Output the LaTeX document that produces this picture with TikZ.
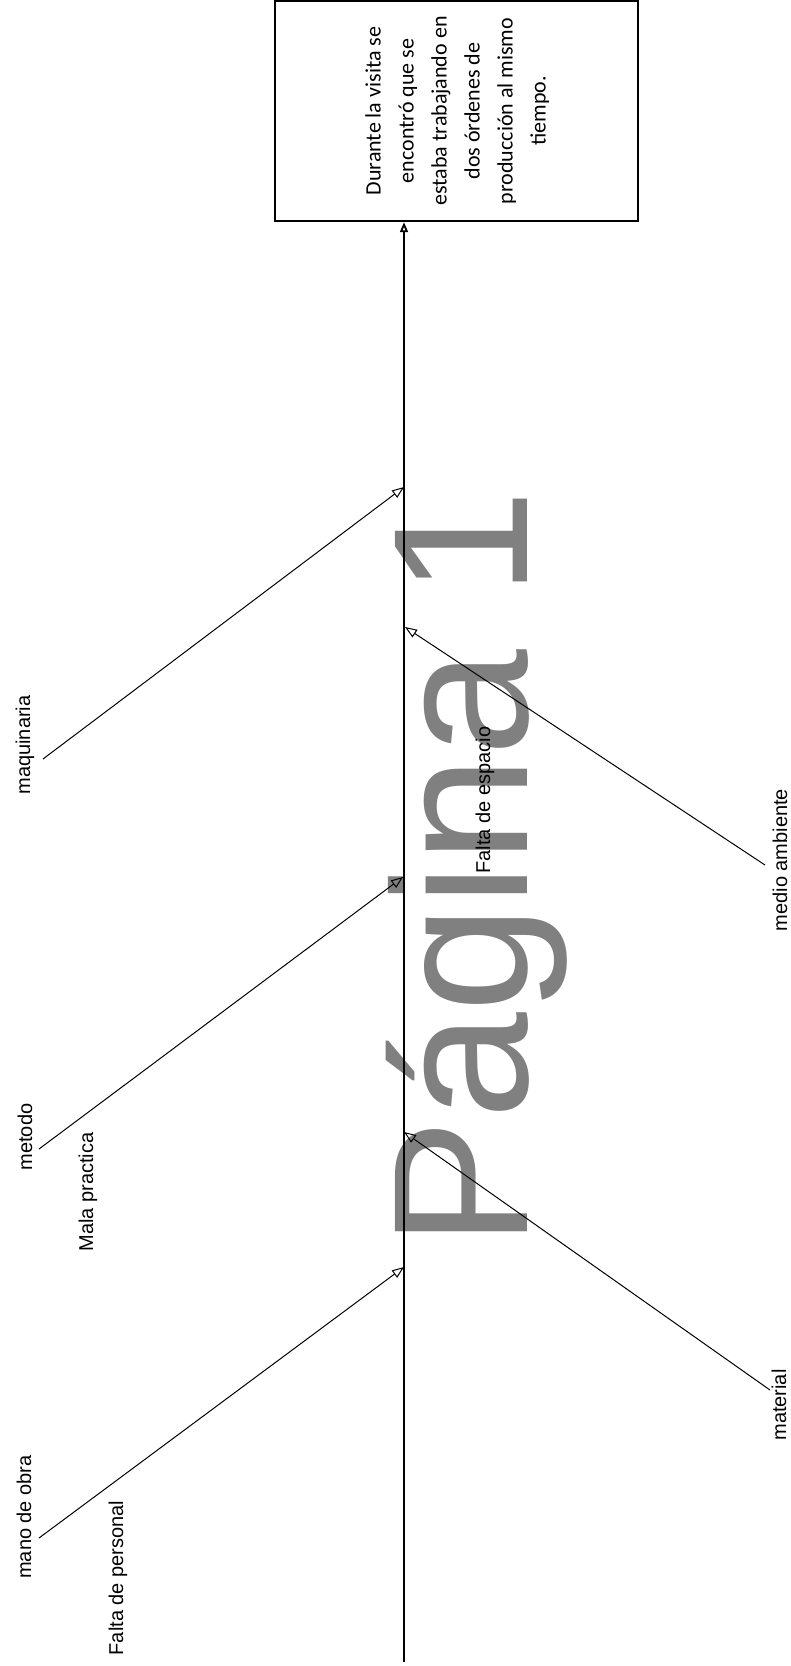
\documentclass[tikz,border=0pt]{standalone}
\usepackage{fontspec}
\setmainfont{Liberation Sans}
\newfontfamily\boxfont{Carlito}
\usetikzlibrary{arrows.meta}
\begin{document}
\begin{tikzpicture}[x=0.5pt,y=-0.5pt,
  lbl/.style={rotate=90, inner sep=0pt, font=\fontsize{10}{12}\selectfont},
  bone/.style={line width=0.5pt, -{Triangle[open,length=6pt,width=4.5pt]}},
  spineline/.style={line width=0.9pt, -{Triangle[open,length=5pt,width=4pt]}},
  effect/.style={draw, line width=1.2pt, minimum width=181.5pt, minimum height=110pt, inner sep=0pt},
  watermark/.style={rotate=90, anchor=base west, inner sep=0pt, text=black!50, font=\fontsize{96}{96}\selectfont}]
\useasboundingbox (0,0) rectangle (791,1666);
% watermark
\node[watermark] (wm) at (527,1248) {Página 1};
% effect box
\node[effect] (box) at (456.5,111) {\rotatebox{90}{\boxfont\fontsize{11}{16.5}\selectfont
  \begin{tabular}{@{}c@{}}Durante la visita se\\ encontró que se\\ estaba trabajando en\\ dos órdenes de\\ producción al mismo\\ tiempo.\end{tabular}}};
% spine
\coordinate (tail) at (404,1662);
\draw[spineline] (tail) -- (tail |- box.south);
% joints on spine
\coordinate (jmaq) at (404,487);
\coordinate (jmed) at (405,627);
\coordinate (jmet) at (403,877);
\coordinate (jmat) at (404,1132);
\coordinate (jmano) at (404,1267);
% free ends
\coordinate (emaq) at (43,759);
\coordinate (emet) at (39,1149);
\coordinate (emano) at (39,1538);
\coordinate (emed) at (765,865);
\coordinate (emat) at (770,1390);
\draw[bone] (emaq) -- (jmaq);
\draw[bone] (emet) -- (jmet);
\draw[bone] (emano) -- (jmano);
\draw[bone] (emed) -- (jmed);
\draw[bone] (emat) -- (jmat);
% labels
\node[lbl] (lmaq) at (25,745) {maquinaria};
\node[lbl] (lmet) at (25,1137) {metodo};
\node[lbl] (lmala) at (88,1192) {Mala practica};
\node[lbl] (lmano) at (24,1517) {mano de obra};
\node[lbl] (lfp) at (118,1578) {Falta de personal};
\node[lbl] (lfe) at (485,800) {Falta de espacio};
\node[lbl] (lmed) at (780,860) {medio ambiente};
\node[lbl] (lmat) at (779,1405) {material};
\end{tikzpicture}
\end{document}
